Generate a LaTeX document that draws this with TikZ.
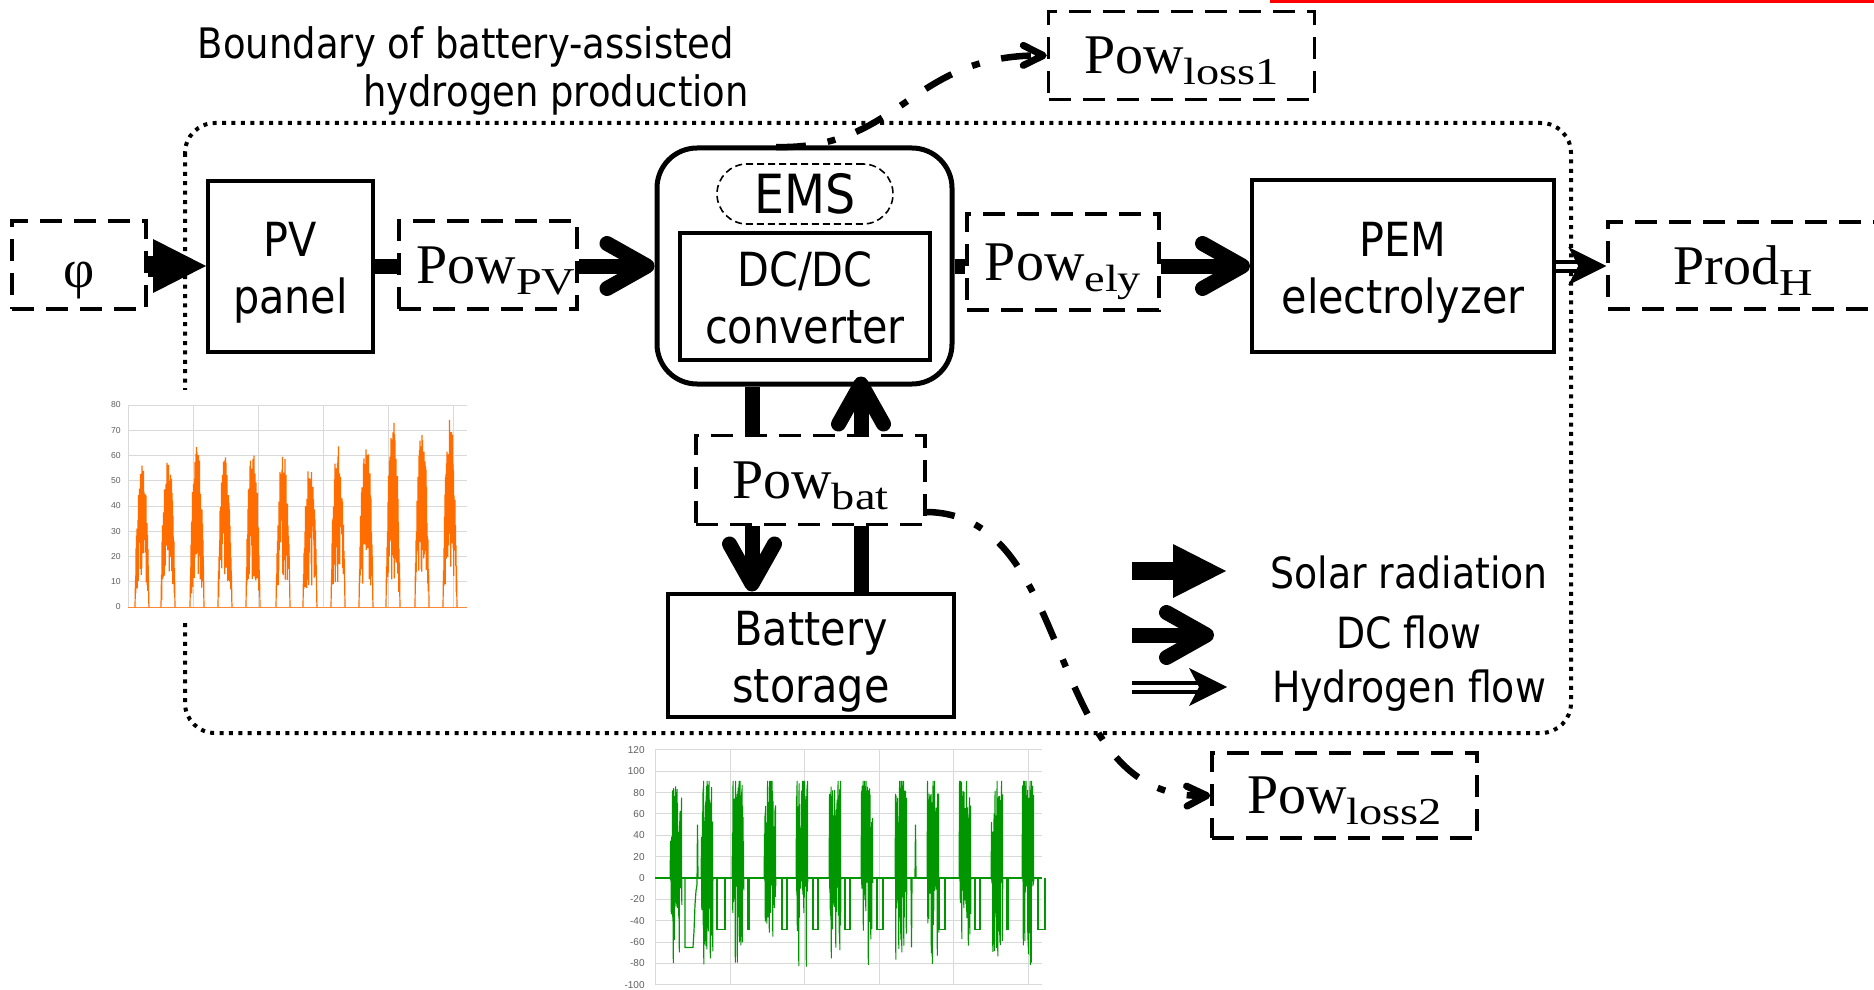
\documentclass[tikz,border=0pt]{standalone}
\usepackage{fontspec}
\usetikzlibrary{arrows.meta,calc}
\newfontfamily\dvsans[FakeStretch=0.88]{DejaVu Sans}
\newfontfamily\serifpow{Liberation Serif}
\newfontfamily\serifsub[FakeStretch=1.22]{Liberation Serif}
\newfontfamily\chartfont{Liberation Sans}
\newcommand\fBox{\dvsans\fontsize{23.5}{28.5}\selectfont}
\newcommand\fTitle{\dvsans\fontsize{21}{25}\selectfont}
\newcommand\fLeg{\dvsans\fontsize{21.5}{26}\selectfont}
\newcommand\fEms{\dvsans\fontsize{27}{30}\selectfont}
\newcommand\fChartA{\chartfont\fontsize{4.3}{5}\selectfont}
\newcommand\fChartB{\chartfont\fontsize{5}{6}\selectfont}
% quantity with subscript, e.g. Pow_PV (the subscript does not widen the box vertically)
\newcommand\pw[2]{{\serifpow\fontsize{28}{30}\selectfont #1}{\serifsub\fontsize{19}{22}\selectfont\smash{\raisebox{-5.5pt}{#2}}}}
\definecolor{pvorange}{RGB}{255,108,0}
\definecolor{batgreen}{RGB}{0,150,0}
\definecolor{gridgray}{RGB}{217,217,217}
\definecolor{axisgray}{RGB}{95,95,95}
\tikzset{
  solidbox/.style={draw, line width=2pt, inner sep=0pt},
  boxtext/.style={font=\fBox, align=center, inner sep=0pt, yshift=-3.5pt},
  dashbox/.style={draw, line width=1.75pt, dash pattern=on 11pt off 6pt, inner sep=0pt},
  emsbox/.style={draw, line width=0.8pt, dash pattern=on 3.5pt off 2pt, rounded corners=15pt,
    minimum width=88pt, minimum height=30pt, font=\fEms, inner sep=0pt},
  boundary/.style={line width=2pt, dash pattern=on 2pt off 2.7pt, rounded corners=15pt},
  dcline/.style={line width=7.5pt},
  dcarrow/.style={line width=7.5pt, -{Straight Barb[length=20pt,width=22.5pt,round]}},
  solar/.style={line width=10.5pt, -{Triangle[length=26.5pt,width=27pt,line width=0pt]}},
  htwo/.style={double, double distance=2.5pt, line width=2pt,
    -{Stealth[length=19pt,width=19pt,inset=5pt,line width=0pt]}},
  lossline/.style={line width=3.25pt, dash pattern=on 15pt off 11pt on 4pt off 11pt,
    -{Straight Barb[length=10pt,width=10pt,round,line width=3.5pt]}},
  titletext/.style={font=\fTitle, inner sep=0pt},
  legtext/.style={font=\fLeg, inner sep=0pt},
  grid line/.style={gridgray, line width=0.5pt},
}
\begin{document}
\begin{tikzpicture}[x=0.5pt,y=-0.5pt]
\useasboundingbox (0,0) rectangle (1874,990);
\clip (0,0) rectangle (1874,990);

% edge of the neighbouring frame
\draw[red, line width=1.5pt] (1271,-20) rectangle (1900,1.5);

% system boundary
\draw[boundary] (185,123) rectangle (1571,733);
\node[titletext, anchor=base] (title1) at (466,59) {Boundary of battery-assisted};
\node[titletext, anchor=base] (title2) at (556,107) {hydrogen production};

\pgfmathsetseed{7}
% PV power profile
\fill[white] (95,390) rectangle (472,622);
\begin{scope}[shift={(128,607)}, yscale=-2.525]
  \foreach \v in {10,20,...,80} \draw[grid line] (0,\v) -- (339,\v);
  \foreach \gx in {0,65,130,195,260,325} \draw[grid line] (\gx,0) -- (\gx,80);
  \foreach \v in {0,10,...,80}
    \node[anchor=east, font=\fChartA, text=axisgray, inner sep=0pt] at (-7,\v) {\v};
  \draw[pvorange!80, line width=0.5pt] (0,0) -- (339,0);
  \foreach \c/\h in {14/57,40/62,69/65,97/61,125/66,155/62,182/57,210/65,238/70,265/74,294/71,322/75}{
    \draw[pvorange, line width=0.6pt, line join=bevel]
      ({\c-7},0)
      \foreach \k in {-6.5,-6,...,6.5}{
        -- ({\c+\k},{\h*pow(cos(\k*13.3),0.5)*(0.72+0.28*rnd)})
        -- ({\c+\k+0.25},{\h*pow(cos(\k*13.3),0.5)*(0.15+0.5*rnd)})
      }
      -- ({\c+7},0);
  }
\end{scope}

% battery power profile
\fill[white] (600,741) rectangle (1046,990);
\begin{scope}[shift={(655,878)}, yscale=-1.068]
  \foreach \v in {-100,-80,...,120} \draw[grid line] (0,\v) -- (387,\v);
  \foreach \gx in {0,75,149,224,298,373} \draw[grid line] (\gx,-100) -- (\gx,120);
  \foreach \v in {-100,-80,...,120}
    \node[anchor=east, font=\fChartB, text=axisgray, inner sep=0pt] at (-10,\v) {\v};
  \draw[batgreen, line width=0.6pt] (0,0) -- (387,0);
  \foreach \c/\t in {21/78,52/91,83/91,115/91,147/91,180/91,212/91,246/91,278/87,310/91,342/87,373/91}{
    \draw[batgreen, line width=0.5pt, line join=bevel]
      ({\c-6},0)
      \foreach \k in {-5.5,-5,...,5.5}{
        -- ({\c+\k},{min(91,\t*(0.3+0.8*rnd))})
        -- ({\c+\k+0.25},{-3-80*pow(rnd,2.5)})
      }
      -- ({\c+6},0);
  }
  \draw[batgreen, line width=0.6pt] (30,0) -- (30,-65) -- (38,-65) -- (39,-50) -- (40,-25)
    -- (41,-12) -- (42,-6) -- (42.5,50) -- (43,0);
  \foreach \a/\b in {62/70,127/132,158/163,190/195,222/228,284/290,320/325,383/390,93/94.5,352/353.5}
    \draw[batgreen, line width=0.6pt] (\a,0) -- (\a,-48) -- (\b,-48) -- (\b,0);
  \draw[batgreen, line width=0.6pt] (256,0) -- (256.5,-65) -- (257,0) (260,0) -- (260.5,50) -- (261,0);
\end{scope}

% blocks
\node[dashbox, minimum width=67pt, minimum height=44pt] (phi) at (79,265)
  {\serifpow\fontsize{27}{30}\selectfont\smash{\raisebox{-11pt}{φ}}};
\node[solidbox, minimum width=82.5pt, minimum height=85.5pt,
  label={[boxtext]center:PV\\panel}] (pv) at (290.5,266) {};
\node[dashbox, minimum width=89pt, minimum height=44pt] (powpv) at (488,265) {\hspace*{8pt}\pw{Pow}{PV}};
\node[draw, line width=2.5pt, rounded corners=20pt, minimum width=147.5pt, minimum height=118pt]
  (dcout) at (804.5,266) {};
\node[emsbox] (ems) at (805,194) {EMS};
\node[solidbox, minimum width=125pt, minimum height=63.5pt,
  label={[boxtext, yshift=2.9pt]center:DC/DC\\converter}] (dcdc) at (805,296.5) {};
\node[dashbox, minimum width=96pt, minimum height=48pt] (powely) at (1063,262) {\pw{Pow}{ely}};
\node[solidbox, minimum width=151pt, minimum height=86pt,
  label={[boxtext]center:PEM\\electrolyzer}] (pem) at (1403,266) {};
\node[dashbox, minimum width=135pt, minimum height=43.5pt] (prod) at (1743,265.5) {\pw{Prod}{H}};
\node[dashbox, minimum width=133pt, minimum height=44pt] (loss1) at (1181.5,55.5) {\pw{Pow}{loss1}};
\node[dashbox, minimum width=114.5pt, minimum height=44.5pt] (powbat) at (810.5,480) {\pw{Pow}{bat}};
\node[solidbox, minimum width=143pt, minimum height=61.5pt,
  label={[boxtext]center:Battery\\storage}] (battery) at (811,655) {};
\node[dashbox, minimum width=132.5pt, minimum height=42.5pt] (loss2) at (1344.5,795.5) {\pw{Pow}{loss2}};

% flows along the main chain
\draw[solar] (phi.east |- pv.west) -- (pv.west);
\draw[dcline] (pv.east) -- (pv.east -| powpv.west);
\draw[dcarrow] (powpv.east |- dcout.west) -- (dcout.west);
\draw[dcline] (dcout.east) -- (dcout.east -| powely.west);
\draw[htwo] (pem.east) -- (pem.east -| prod.west);
\draw[dcarrow] (powely.east |- pem.west) -- (pem.west);

% battery branch
\coordinate (colL) at (752,0);
\coordinate (colR) at (861,0);
\draw[dcline] (dcout.south -| colL) -- (powbat.north -| colL);
\draw[dcarrow, shorten >=-5pt] (powbat.north -| colR) -- (dcout.south -| colR);
\draw[dcarrow] (powbat.south -| colL) -- (battery.north -| colL);
\draw[dcline] (battery.north -| colR) -- (powbat.south -| colR);

% losses
\coordinate (l1s) at (776,147);
\draw[lossline] (l1s) .. controls (900,150) and (910,55) .. (loss1.west);
\coordinate (l2s) at (925,512);
\draw[lossline] (l2s) .. controls (1080,512) and (1040,800) .. (loss2.west);

% legend
\coordinate (legA0) at (1132,571); \coordinate (legA1) at (1226,571);
\coordinate (legB0) at (1132,635); \coordinate (legB1) at (1214,635);
\coordinate (legC0) at (1132,687); \coordinate (legC1) at (1227,687);
\draw[solar, line width=9pt] (legA0) -- (legA1);
\draw[dcarrow] (legB0) -- (legB1);
\draw[htwo] (legC0) -- (legC1);
\node[legtext, anchor=base] (legA) at (1409,588) {Solar radiation};
\node[legtext, anchor=base] (legB) at (1409,648) {DC flow};
\node[legtext, anchor=base] (legC) at (1409,702) {Hydrogen flow};
\end{tikzpicture}
\end{document}
